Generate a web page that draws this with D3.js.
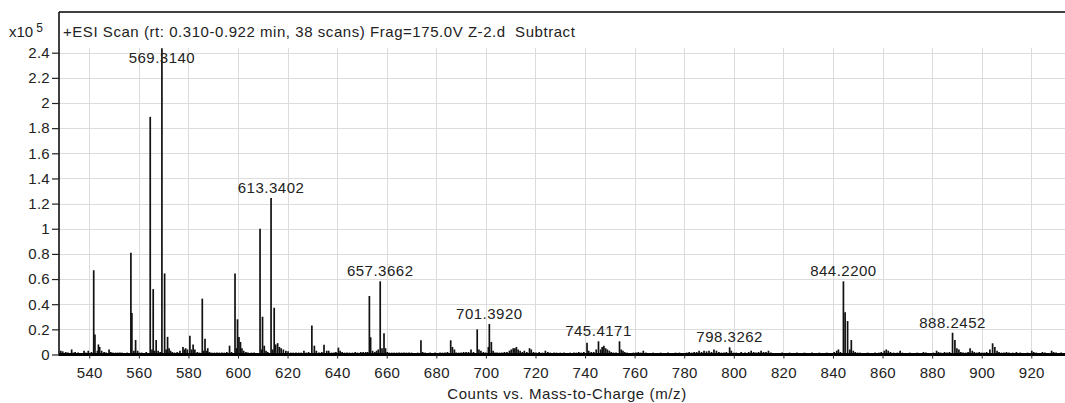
<!DOCTYPE html>
<html>
<head>
<meta charset="utf-8">
<script src="https://cdn.jsdelivr.net/npm/d3@7"></script>
<style>
  html, body { margin: 0; padding: 0; background: #fff; }
  svg { display: block; font-family: "Liberation Sans", Arial, sans-serif; }
  .tick text { fill: #222; }
</style>
</head>
<body>
<svg id="chart" width="1065" height="403"></svg>
<script>
// Mass spectrum: m/z positions and intensities (counts x 10^5)
const peakMz = [
  528.5, 529.3, 530.5, 531.4, 532.9, 533.6, 534.3, 535.5, 536.4, 537.9, 538.6, 539.6, 540.9, 541.8, 542.3, 543.3, 543.7, 544.2, 545.0, 546.0,
  546.8, 548.0, 548.7, 549.5, 550.6, 551.5, 552.4, 553.3, 554.2, 555.3, 556.8, 557.2, 558.0, 558.7, 559.5, 560.3, 561.2, 562.0, 563.0, 564.6,
  565.3, 565.8, 566.4, 567.0, 567.8, 568.6, 569.314, 570.4, 571.0, 571.6, 572.2, 572.8, 573.5, 574.4, 575.5, 576.6, 577.8, 578.3, 578.9, 579.6,
  580.6, 581.3, 581.9, 582.6, 583.6, 584.5, 585.6, 586.2, 586.7, 587.3, 587.8, 588.5, 589.4, 590.5, 591.5, 592.5, 593.5, 594.5, 595.5, 596.6,
  597.4, 598.8, 599.3, 599.8, 600.4, 601.0, 601.6, 602.3, 603.2, 604.0, 605.4, 606.5, 607.5, 608.9, 609.5, 609.9, 610.6, 611.3, 612.0, 613.3402,
  614.0, 614.6, 615.2, 616.0, 616.7, 617.4, 618.3, 619.3, 620.2, 621.3, 622.3, 623.4, 624.5, 625.5, 626.6, 627.5, 628.5, 629.8, 630.8, 631.6,
  632.7, 633.8, 634.7, 635.8, 636.6, 637.7, 638.7, 639.5, 640.5, 641.2, 642.0, 643.0, 644.0, 645.0, 646.2, 647.3, 648.2, 649.5, 650.5, 651.5,
  652.3, 653.0, 653.5, 654.3, 655.2, 655.9, 656.6, 657.3662, 658.1, 658.9, 659.5, 660.2, 661.0, 662.0, 663.0, 664.0, 665.0, 666.0, 667.0, 668.0,
  669.0, 670.0, 671.0, 672.5, 673.8, 674.5, 675.5, 676.5, 677.5, 678.5, 679.5, 680.5, 681.5, 682.5, 683.5, 684.5, 685.8, 686.5, 687.3, 688.0,
  689.0, 690.0, 691.0, 692.0, 693.0, 694.0, 695.0, 696.5, 697.2, 698.0, 699.0, 700.0, 701.0, 701.392, 702.2, 702.9, 703.7, 704.5, 705.5, 706.5,
  707.5, 708.5, 709.5, 710.2, 711.0, 711.7, 712.3, 713.0, 713.8, 714.7, 715.5, 716.5, 717.6, 718.3, 719.2, 720.2, 721.5, 722.8, 724.0, 725.0,
  726.0, 727.5, 728.5, 730.0, 731.5, 732.8, 734.0, 735.5, 736.5, 737.5, 738.5, 739.5, 740.8, 741.5, 742.5, 743.5, 744.5, 745.4171, 746.3, 746.9,
  747.6, 748.3, 749.0, 749.8, 750.6, 751.5, 752.5, 753.9, 754.6, 755.3, 756.0, 757.0, 758.0, 759.5, 760.5, 761.5, 762.5, 763.5, 764.5, 766.0,
  767.5, 769.0, 770.5, 772.0, 773.5, 775.0, 776.5, 778.0, 779.5, 781.0, 782.0, 783.0, 784.0, 785.0, 786.0, 787.0, 788.0, 789.0, 790.0, 791.0,
  792.0, 793.0, 794.0, 795.0, 796.0, 797.0, 798.3262, 799.0, 800.0, 801.0, 802.0, 803.0, 804.5, 806.0, 807.0, 808.0, 809.0, 810.0, 811.0, 812.0,
  813.0, 814.0, 815.0, 816.5, 818.0, 819.5, 821.0, 822.5, 824.0, 825.5, 827.0, 828.5, 830.0, 831.5, 833.0, 834.5, 836.0, 837.5, 839.0, 840.5,
  841.5, 842.2, 843.0, 844.22, 844.9, 845.9, 846.8, 847.4, 848.2, 849.0, 850.0, 851.0, 852.5, 854.0, 855.5, 857.0, 858.5, 859.5, 860.7, 861.5,
  862.3, 863.2, 864.5, 866.0, 867.1, 868.0, 869.5, 871.0, 872.5, 874.0, 875.5, 876.5, 877.5, 879.0, 880.5, 881.8, 882.6, 883.5, 885.0, 886.0,
  887.0, 888.2452, 889.2, 890.0, 890.8, 891.6, 892.5, 893.5, 894.5, 895.3, 896.2, 897.0, 898.0, 899.0, 900.0, 901.0, 902.0, 903.3, 904.4, 905.3,
  906.2, 907.0, 908.0, 909.0, 910.0, 911.0, 912.5, 914.0, 915.5, 917.0, 918.5, 920.2, 921.0, 922.0, 923.5, 924.5, 925.5, 927.0, 928.2, 929.0,
  930.0, 931.0, 932.0, 933.0
];
const peakIntensity = [
  0.03, 0.025, 0.02, 0.015, 0.04, 0.015, 0.02, 0.015, 0.012, 0.03, 0.015, 0.03, 0.02, 0.67, 0.16, 0.03, 0.08, 0.06, 0.03, 0.02,
  0.015, 0.04, 0.02, 0.015, 0.015, 0.015, 0.015, 0.015, 0.012, 0.015, 0.81, 0.33, 0.03, 0.115, 0.03, 0.015, 0.015, 0.012, 0.02, 1.89,
  0.04, 0.52, 0.03, 0.115, 0.03, 0.02, 2.435, 0.645, 0.04, 0.14, 0.05, 0.03, 0.02, 0.015, 0.02, 0.03, 0.06, 0.04, 0.05, 0.04,
  0.15, 0.04, 0.08, 0.04, 0.02, 0.015, 0.444, 0.03, 0.126, 0.03, 0.05, 0.02, 0.015, 0.015, 0.015, 0.015, 0.015, 0.015, 0.02, 0.07,
  0.02, 0.645, 0.05, 0.28, 0.14, 0.1, 0.05, 0.03, 0.02, 0.015, 0.015, 0.015, 0.012, 1.0, 0.04, 0.30, 0.07, 0.03, 0.02, 1.245,
  0.04, 0.372, 0.08, 0.09, 0.06, 0.05, 0.04, 0.03, 0.025, 0.015, 0.015, 0.015, 0.015, 0.015, 0.03, 0.015, 0.02, 0.23, 0.07, 0.03,
  0.015, 0.02, 0.078, 0.03, 0.03, 0.015, 0.015, 0.02, 0.055, 0.03, 0.02, 0.015, 0.015, 0.015, 0.015, 0.02, 0.015, 0.02, 0.02, 0.02,
  0.02, 0.465, 0.137, 0.03, 0.02, 0.03, 0.04, 0.582, 0.05, 0.168, 0.05, 0.02, 0.015, 0.015, 0.015, 0.015, 0.015, 0.015, 0.015, 0.015,
  0.015, 0.015, 0.012, 0.015, 0.113, 0.02, 0.015, 0.012, 0.015, 0.012, 0.015, 0.012, 0.015, 0.015, 0.015, 0.02, 0.113, 0.06, 0.04, 0.015,
  0.015, 0.015, 0.02, 0.02, 0.02, 0.04, 0.02, 0.2, 0.04, 0.03, 0.02, 0.015, 0.06, 0.243, 0.1, 0.03, 0.015, 0.015, 0.015, 0.015,
  0.02, 0.02, 0.03, 0.04, 0.05, 0.05, 0.06, 0.04, 0.03, 0.02, 0.03, 0.02, 0.05, 0.04, 0.02, 0.015, 0.02, 0.015, 0.03, 0.02,
  0.015, 0.015, 0.015, 0.015, 0.015, 0.012, 0.015, 0.015, 0.015, 0.02, 0.015, 0.02, 0.094, 0.03, 0.02, 0.02, 0.04, 0.105, 0.04, 0.06,
  0.07, 0.05, 0.04, 0.03, 0.02, 0.015, 0.015, 0.105, 0.04, 0.03, 0.02, 0.015, 0.012, 0.015, 0.015, 0.02, 0.015, 0.03, 0.015, 0.012,
  0.015, 0.012, 0.015, 0.012, 0.015, 0.012, 0.015, 0.015, 0.012, 0.015, 0.02, 0.015, 0.02, 0.02, 0.03, 0.02, 0.03, 0.025, 0.03, 0.02,
  0.04, 0.03, 0.02, 0.015, 0.015, 0.02, 0.057, 0.03, 0.015, 0.015, 0.012, 0.02, 0.015, 0.02, 0.03, 0.02, 0.015, 0.02, 0.03, 0.02,
  0.02, 0.03, 0.015, 0.012, 0.012, 0.015, 0.012, 0.015, 0.012, 0.015, 0.012, 0.015, 0.012, 0.015, 0.012, 0.015, 0.012, 0.015, 0.012, 0.02,
  0.03, 0.04, 0.02, 0.582, 0.335, 0.266, 0.04, 0.115, 0.03, 0.02, 0.015, 0.015, 0.012, 0.015, 0.012, 0.015, 0.015, 0.02, 0.03, 0.04,
  0.03, 0.02, 0.015, 0.015, 0.03, 0.015, 0.012, 0.015, 0.012, 0.015, 0.012, 0.02, 0.015, 0.012, 0.015, 0.03, 0.02, 0.015, 0.02, 0.015,
  0.02, 0.173, 0.115, 0.05, 0.04, 0.02, 0.015, 0.015, 0.02, 0.05, 0.03, 0.02, 0.015, 0.02, 0.015, 0.015, 0.02, 0.04, 0.089, 0.06,
  0.03, 0.02, 0.015, 0.015, 0.02, 0.015, 0.015, 0.02, 0.015, 0.012, 0.015, 0.03, 0.02, 0.015, 0.012, 0.02, 0.015, 0.012, 0.03, 0.02,
  0.015, 0.012, 0.015, 0.012
];

// Annotated peaks (m/z as printed)
const labelMz = ["569.3140", "613.3402", "657.3662", "701.3920", "745.4171", "798.3262", "844.2200", "888.2452"];

// Axis ticks
const xTicks = [540, 560, 580, 600, 620, 640, 660, 680, 700, 720, 740, 760, 780, 800, 820, 840, 860, 880, 900, 920];
const yTicks = [0, 0.2, 0.4, 0.6, 0.8, 1, 1.2, 1.4, 1.6, 1.8, 2, 2.2, 2.4];

const titleText = "+ESI Scan (rt: 0.310-0.922 min, 38 scans) Frag=175.0V Z-2.d\u00a0 Subtract";
const xTitle = "Counts vs. Mass-to-Charge (m/z)";

const plot = { left: 59, top: 12, right: 1065, bottom: 354.5 };

const svg = d3.select("#chart");

const x = d3.scaleLinear().domain([527.8, 933.6]).range([plot.left, plot.right]);
const y = d3.scaleLinear().domain([0, 2.4]).range([plot.bottom, 52.7]);

// Grid
const grid = svg.append("g").attr("stroke", "#dcdcdc").attr("stroke-width", 1);
grid.selectAll("line.v").data(xTicks).join("line")
  .attr("x1", d => Math.round(x(d)) + 0.5).attr("x2", d => Math.round(x(d)) + 0.5)
  .attr("y1", 48).attr("y2", plot.bottom);
grid.selectAll("line.h").data(yTicks.filter(d => d > 0)).join("line")
  .attr("x1", plot.left).attr("x2", plot.right)
  .attr("y1", d => Math.round(y(d)) + 0.5).attr("y2", d => Math.round(y(d)) + 0.5);

// Spectrum sticks
const sticks = peakMz.map((m, i) => ({ mz: m, v: peakIntensity[i] }));
svg.append("g").attr("stroke", "#111").attr("stroke-width", 1.7)
  .selectAll("line").data(sticks).join("line")
  .attr("x1", d => x(d.mz)).attr("x2", d => x(d.mz))
  .attr("y1", y(0)).attr("y2", d => y(d.v));

// Frame: top and left borders
svg.append("line").attr("x1", plot.left).attr("x2", plot.right)
  .attr("y1", plot.top).attr("y2", plot.top).attr("stroke", "#000").attr("stroke-width", 1.5);
svg.append("line").attr("x1", plot.left).attr("x2", plot.left)
  .attr("y1", plot.top).attr("y2", plot.bottom + 1).attr("stroke", "#000").attr("stroke-width", 1.5);

// Y axis
const yAxis = d3.axisLeft(y).tickValues(yTicks).tickFormat(d => String(d)).tickSize(7).tickPadding(2);
const gy = svg.append("g").attr("transform", `translate(${plot.left},0)`).call(yAxis);
gy.select(".domain").remove();
gy.selectAll(".tick line").attr("stroke", "#222").attr("stroke-width", 1.2);
gy.selectAll(".tick text").attr("font-size", 15).attr("letter-spacing", 0.3);

// X axis
const xAxis = d3.axisBottom(x).tickValues(xTicks).tickFormat(d => String(d)).tickSize(4).tickPadding(9);
const gx = svg.append("g").attr("transform", `translate(0,${plot.bottom})`).call(xAxis);
gx.select(".domain").attr("stroke", "#000").attr("stroke-width", 3)
  .attr("d", `M${plot.left},0H${plot.right}`);
gx.selectAll(".tick line").attr("stroke", "#222");
gx.selectAll(".tick text").attr("font-size", 15).attr("letter-spacing", 0.3);

// Exponent label
const ex = svg.append("text").attr("x", 9).attr("y", 37).attr("font-size", 15).attr("fill", "#222");
ex.append("tspan").text("x10");
ex.append("tspan").attr("dx", 3).attr("dy", -5).attr("font-size", 12).text("5");

// Title
svg.append("text").attr("x", 63).attr("y", 36.5).attr("font-size", 15).attr("letter-spacing", 0.55)
  .attr("fill", "#222").text(titleText);

// X axis title
svg.append("text").attr("x", 567).attr("y", 399).attr("text-anchor", "middle")
  .attr("font-size", 15).attr("letter-spacing", 0.6).attr("fill", "#222").text(xTitle);

// Peak annotations
labelMz.forEach(lbl => {
  const m = +lbl;
  const pk = sticks.reduce((a, b) => Math.abs(b.mz - m) < Math.abs(a.mz - m) ? b : a);
  const yb = Math.max(y(pk.v) - 5, 63);
  svg.append("text").attr("x", x(m)).attr("y", yb).attr("text-anchor", "middle")
    .attr("font-size", 15).attr("letter-spacing", 0.5).attr("fill", "#222").text(lbl);
});
</script>
</body>
</html>
